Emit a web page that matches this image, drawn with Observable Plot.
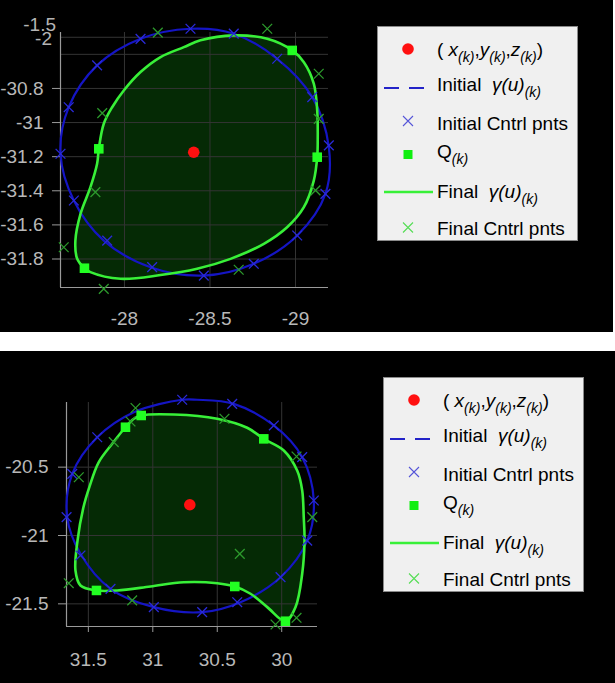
<!DOCTYPE html>
<html><head><meta charset="utf-8">
<script src="https://cdn.jsdelivr.net/npm/d3@7"></script>
<script src="https://cdn.jsdelivr.net/npm/@observablehq/plot@0.6"></script>
<style>
body{margin:0;background:#fff;width:615px;height:683px;position:relative;overflow:hidden;font-family:Arial,"Liberation Sans",sans-serif}
.panel{position:absolute;left:0;background:#000;overflow:hidden}
.plot{position:absolute;left:0;top:0}
.legend{position:absolute;background:#f0f0f0;border:1px solid #8a8a8a;box-sizing:border-box}
.legend svg{position:absolute;left:0;top:0}
.ltxt{position:absolute;left:59px;font-size:19px;line-height:19px;color:#000;white-space:nowrap}
.ltxt sub{font-size:14px;vertical-align:baseline;position:relative;top:0.45em;font-style:italic}
.zlab{position:absolute;color:#b4b4b4;font-size:19px;line-height:19px;text-align:right}
</style></head>
<body>
<div id="p1" class="panel" style="top:0;width:613px;height:332px"></div>
<div id="p2" class="panel" style="top:351px;width:615px;height:332px"></div>
<script>
// ---------- TOP PANEL DATA ----------
const topXTicks = [-28, -28.5, -29];
const topYTicks = [-30.8, -31, -31.2, -31.4, -31.6, -31.8];
const topYGrid = [-30.5, -30.6, -30.8, -31, -31.2, -31.4, -31.6, -31.8];
const topExtraLabels = ["-1.5", "-2"];
const topCenter = [[-28.405, -31.174]];
const topInitialCurve = [
  [-28.386,-30.450],[-28.639,-30.479],[-28.893,-30.626],[-29.098,-30.851],[-29.195,-31.144],
  [-29.175,-31.418],[-29.010,-31.662],[-28.756,-31.828],[-28.464,-31.897],[-28.152,-31.848],
  [-27.879,-31.692],[-27.704,-31.457],[-27.626,-31.183],[-27.674,-30.910],[-27.840,-30.665],
  [-28.094,-30.509]
];
const topInitialCtrl = [
  [-28.386,-30.450],[-28.639,-30.479],[-28.893,-30.626],[-29.098,-30.851],[-29.195,-31.134],
  [-29.175,-31.418],[-29.010,-31.662],[-28.756,-31.828],[-28.464,-31.897],[-28.162,-31.848],
  [-27.899,-31.692],[-27.704,-31.457],[-27.626,-31.183],[-27.674,-30.910],[-27.840,-30.665],
  [-28.094,-30.509]
];
const topFinalCurve = [
  [-28.639,-30.489],[-28.835,-30.509],[-28.981,-30.577],[-29.049,-30.646],[-29.107,-30.772],
  [-29.127,-30.929],[-29.130,-31.105],[-29.127,-31.203],[-29.107,-31.340],[-29.049,-31.496],
  [-28.951,-31.614],[-28.815,-31.711],[-28.620,-31.799],[-28.425,-31.857],[-28.211,-31.894],
  [-27.977,-31.916],[-27.801,-31.877],[-27.766,-31.854],[-27.723,-31.797],[-27.713,-31.692],
  [-27.743,-31.535],[-27.801,-31.379],[-27.840,-31.242],[-27.850,-31.154],[-27.879,-31.007],
  [-27.928,-30.910],[-27.996,-30.812],[-28.094,-30.704],[-28.211,-30.616],[-28.347,-30.558],
  [-28.444,-30.518]
];
const topQ = [[-28.981,-30.577],[-29.127,-31.203],[-27.766,-31.854],[-27.850,-31.154]];
const topFinalCtrl = [
  [-28.835,-30.450],[-29.136,-30.714],[-29.136,-30.978],[-29.117,-31.398],[-28.668,-31.863],
  [-27.879,-31.975],[-27.645,-31.731],[-27.830,-31.408],[-27.870,-30.945],[-28.195,-30.473]
];

// ---------- BOTTOM PANEL DATA ----------
const botXTicks = [31.5, 31, 30.5, 30];
const botYTicks = [-20.5, -21, -21.5];
const botCenter = [[30.713, -20.775]];
const botInitialCurve = [
  [30.772,-20.007],[30.656,-20.007],[30.372,-20.037],[30.061,-20.195],[29.841,-20.427],
  [29.751,-20.744],[29.802,-21.037],[30.009,-21.305],[30.320,-21.488],[30.617,-21.561],
  [30.992,-21.524],[31.328,-21.390],[31.561,-21.134],[31.664,-20.866],[31.625,-20.549],
  [31.431,-20.281],[31.147,-20.098]
];
const botInitialCtrl = [
  [30.772,-20.007],[30.384,-20.037],[30.061,-20.195],[29.841,-20.427],[29.751,-20.744],
  [29.802,-21.037],[30.009,-21.305],[30.345,-21.488],[30.617,-21.561],[30.992,-21.524],
  [31.328,-21.390],[31.561,-21.146],[31.669,-20.866],[31.625,-20.549],[31.431,-20.281]
];
const botFinalCurve = [
  [31.090,-20.122],[30.837,-20.115],[30.500,-20.146],[30.268,-20.212],[30.139,-20.293],
  [29.984,-20.378],[29.880,-20.525],[29.841,-20.671],[29.829,-20.866],[29.823,-21.037],
  [29.841,-21.280],[29.893,-21.524],[29.971,-21.627],[30.112,-21.524],[30.242,-21.426],
  [30.364,-21.373],[30.500,-21.349],[30.760,-21.342],[31.018,-21.373],[31.276,-21.402],
  [31.437,-21.402],[31.561,-21.366],[31.600,-21.256],[31.584,-21.037],[31.538,-20.793],
  [31.491,-20.642],[31.421,-20.466],[31.315,-20.329],[31.212,-20.208],[31.147,-20.146]
];
const botQ = [[31.090,-20.122],[31.212,-20.208],[30.139,-20.293],[29.971,-21.627],[30.364,-21.373],[31.437,-21.402]];
const botFinalCtrl = [
  [31.134,-20.067],[31.173,-20.166],[31.303,-20.317],[31.574,-20.574],[31.652,-21.349],
  [31.160,-21.475],[30.325,-21.134],[30.444,-20.146],[29.885,-20.422],[29.763,-20.866],
  [30.048,-21.651],[29.885,-21.602]
];

// ---------- LEGEND ----------
const legendLabels = [
  '( <i>x</i><sub>(k)</sub>,<i>y</i><sub>(k)</sub>,<i>z</i><sub>(k)</sub>)',
  'Initial &nbsp;<i>γ(u)</i><sub>(k)</sub>',
  'Initial Cntrl pnts',
  'Q<sub>(k)</sub>',
  'Final &nbsp;<i>γ(u)</i><sub>(k)</sub>',
  'Final Cntrl pnts'
];
const legendKinds = ["dot", "dash", "xblue", "square", "line", "xgreen"];

// ---------- STYLES ----------
const C = {
  fill: "#052a05", grid: "#343434", axis: "#9a9a9a", label: "#b8b8b8",
  blue: "#1515c4", green: "#38f038", xBlue: "#2a2ad8", xGreen: "#2c9a2c",
  q: "#22ff22", red: "#ff1010"
};
const fmt = d => String(d);
const X = d => d[0], Y = d => d[1];

function panel(c) {
  return Plot.plot({
    width: 340, height: 332,
    marginLeft: c.ml, marginRight: c.mr, marginTop: c.mt, marginBottom: c.mb,
    x: {domain: c.xDomain, label: null},
    y: {domain: c.yDomain, label: null},
    style: {background: "transparent", color: C.label, fontSize: "19px",
            fontFamily: "Arial, 'Liberation Sans', sans-serif", overflow: "visible"},
    marks: [
      Plot.line(c.final, {x: X, y: Y, curve: "catmull-rom-closed", fill: C.fill, stroke: "none"}),
      Plot.gridX(c.xTicks, {stroke: C.grid, strokeOpacity: 1}),
      Plot.gridY(c.yGrid, {stroke: C.grid, strokeOpacity: 1}),
      Plot.ruleX([c.xDomain[0]], {stroke: C.axis, strokeWidth: 1.2}),
      Plot.ruleY([c.yDomain[0]], {stroke: C.axis, strokeWidth: 1.2}),
      Plot.axisX(c.xTicks, {anchor: "bottom", tickSize: c.xTickSize, tickPadding: c.xTickPad,
        tickFormat: fmt, stroke: C.axis, fill: C.label, label: null}),
      Plot.axisY(c.yTicks, {anchor: "left", tickSize: 8, tickPadding: c.yTickPad,
        tickFormat: fmt, stroke: C.axis, fill: C.label, label: null}),
      Plot.line(c.initial, {x: X, y: Y, curve: "catmull-rom-closed", stroke: C.blue, strokeWidth: 2.2}),
      Plot.line(c.final, {x: X, y: Y, curve: "catmull-rom-closed", stroke: C.green, strokeWidth: 2.6}),
      Plot.dot(c.initialCtrl, {x: X, y: Y, symbol: "times", r: 4.5, stroke: C.xBlue, strokeWidth: 1.3}),
      Plot.dot(c.finalCtrl, {x: X, y: Y, symbol: "times", r: 4.5, stroke: C.xGreen, strokeWidth: 1.3}),
      Plot.dot(c.center, {x: X, y: Y, r: 5.8, fill: C.red, stroke: "none"}),
      Plot.dot(c.q, {x: X, y: Y, symbol: "square", r: 5.4, fill: C.q, stroke: "none"})
    ]
  });
}

function legend(container, left, top) {
  const box = document.createElement("div");
  box.className = "legend";
  Object.assign(box.style, {left: left + "px", top: top + "px", width: "201px", height: "215px"});
  const symCenters = [22, 61, 94, 127.5, 165, 200.5];
  const txtCenters = [22, 57, 96.5, 124, 164, 201.5];
  const svg = d3.select(box).append("svg").attr("width", 201).attr("height", 215);
  legendKinds.forEach((k, i) => {
    const cy = symCenters[i], cx = 30;
    if (k === "dot") svg.append("circle").attr("cx", cx).attr("cy", cy).attr("r", 5.8).attr("fill", C.red);
    if (k === "dash") svg.append("line").attr("x1", 6).attr("x2", 48).attr("y1", cy).attr("y2", cy)
      .attr("stroke", "#2323c8").attr("stroke-width", 2).attr("stroke-dasharray", "15,10");
    if (k === "line") svg.append("line").attr("x1", 6).attr("x2", 55).attr("y1", cy).attr("y2", cy)
      .attr("stroke", C.green).attr("stroke-width", 2.5);
    if (k === "square") svg.append("rect").attr("x", cx - 4.5).attr("y", cy - 4.5).attr("width", 9).attr("height", 9).attr("fill", "#10ee10");
    if (k === "xblue" || k === "xgreen") {
      const col = k === "xblue" ? "#5555d8" : "#55dd55";
      svg.append("path").attr("d", `M${cx-5},${cy-5}L${cx+5},${cy+5}M${cx-5},${cy+5}L${cx+5},${cy-5}`)
        .attr("stroke", col).attr("stroke-width", 1.1).attr("fill", "none");
    }
    const t = document.createElement("div");
    t.className = "ltxt";
    t.style.top = (txtCenters[i] - 9.3) + "px";
    t.innerHTML = legendLabels[i];
    box.appendChild(t);
  });
  container.appendChild(box);
}

const p1 = document.getElementById("p1");
const s1 = panel({
  ml: 60, mr: 12, mt: 32, mb: 45,
  xDomain: [-27.626, -29.193], yDomain: [-31.967, -30.472],
  xTicks: topXTicks, yTicks: topYTicks, yGrid: topYGrid,
  xTickSize: 0, xTickPad: 24, yTickPad: 9,
  initial: topInitialCurve, initialCtrl: topInitialCtrl, final: topFinalCurve,
  finalCtrl: topFinalCtrl, q: topQ, center: topCenter
});
s1.classList.add("plot");
p1.appendChild(s1);
// stray 3-D axis labels at top-left (they overlap in the original as well)
[[topExtraLabels[0], 0, 15], [topExtraLabels[1], 4, 29]].forEach(([s, r, t]) => {
  const d = document.createElement("div");
  d.className = "zlab";
  Object.assign(d.style, {right: (613 - 56 + r) + "px", top: t + "px"});
  d.textContent = s;
  p1.appendChild(d);
});
legend(p1, 377, 26);

const p2 = document.getElementById("p2");
const s2 = panel({
  ml: 66, mr: 23, mt: 51, mb: 57,
  xDomain: [31.6695, 29.7223], yDomain: [-21.6657, -20.027],
  xTicks: botXTicks, yTicks: botYTicks, yGrid: botYTicks,
  xTickSize: 6, xTickPad: 20, yTickPad: 10,
  initial: botInitialCurve, initialCtrl: botInitialCtrl, final: botFinalCurve,
  finalCtrl: botFinalCtrl, q: botQ, center: botCenter
});
s2.classList.add("plot");
p2.appendChild(s2);
legend(p2, 383, 26);
</script>
</body></html>
